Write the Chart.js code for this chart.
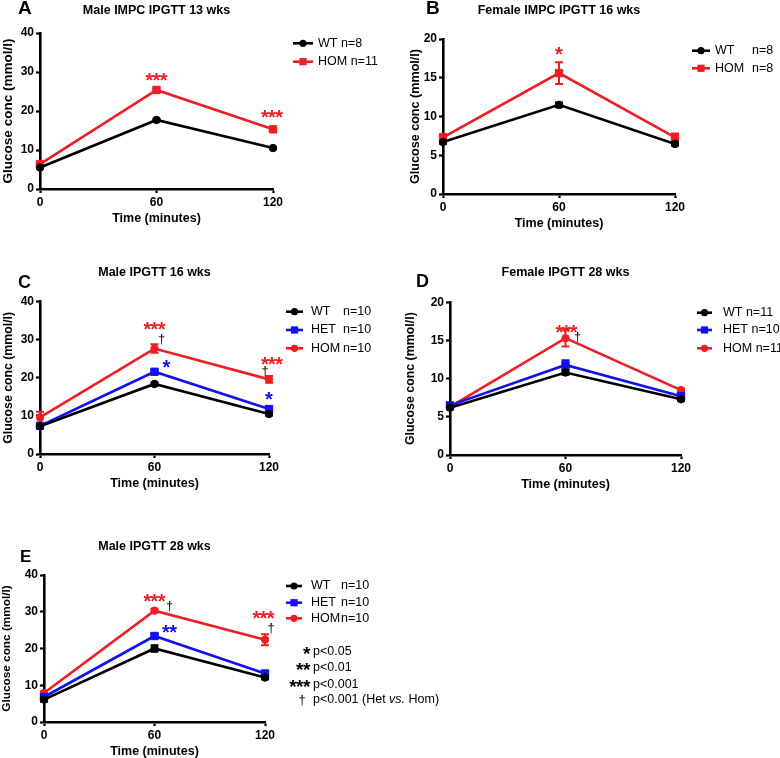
<!DOCTYPE html>
<html>
<head>
<meta charset="utf-8">
<script src="https://cdn.jsdelivr.net/npm/chart.js@4.4.1/dist/chart.umd.min.js"></script>
<style>
  html, body { margin: 0; padding: 0; background: #ffffff; }
  body { position: relative; width: 780px; height: 758px; overflow: hidden; }
  canvas { position: absolute; }
</style>
</head>
<body>
<canvas id="cA"></canvas>
<canvas id="cB"></canvas>
<canvas id="cC"></canvas>
<canvas id="cD"></canvas>
<canvas id="cE"></canvas>
<script>
// ---------------- DATA ----------------
const timePoints = [0, 60, 120];
const xTickLabels = ['0', '60', '120'];
const xAxisTitle = 'Time (minutes)';
const yAxisTitle = 'Glucose conc (mmol/l)';
const yTicks40 = [0, 10, 20, 30, 40];
const yTicks20 = [0, 5, 10, 15, 20];

// Panel A
const A_title = 'Male IMPC IPGTT 13 wks';
const A_groups = ['WT', 'HOM'];
const A_n = ['n=8', 'n=11'];
const A_WT = [5.5, 17.7, 10.5];
const A_WT_sem = [0.3, 0.3, 0.3];
const A_HOM = [6.4, 25.4, 15.3];
const A_HOM_sem = [0.4, 0.4, 0.4];

// Panel B
const B_title = 'Female IMPC IPGTT 16 wks';
const B_groups = ['WT', 'HOM'];
const B_n = ['n=8', 'n=8'];
const B_WT = [6.7, 11.5, 6.45];
const B_WT_sem = [0.2, 0.3, 0.2];
const B_HOM = [7.3, 15.6, 7.3];
const B_HOM_sem = [0.4, 1.4, 0.5];

// Panel C
const C_title = 'Male IPGTT 16 wks';
const C_groups = ['WT', 'HET', 'HOM'];
const C_n = ['n=10', 'n=10', 'n=10'];
const C_WT = [7.3, 18.4, 10.5];
const C_WT_sem = [0.4, 0.4, 0.4];
const C_HET = [7.4, 21.6, 11.8];
const C_HET_sem = [0.5, 0.6, 0.7];
const C_HOM = [9.6, 27.7, 19.6];
const C_HOM_sem = [1.5, 1.1, 0.9];

// Panel D
const D_title = 'Female IPGTT 28 wks';
const D_groups = ['WT', 'HET', 'HOM'];
const D_n = ['n=11', 'n=10', 'n=11'];
const D_WT = [6.2, 10.8, 7.3];
const D_WT_sem = [0.2, 0.3, 0.2];
const D_HET = [6.5, 11.8, 7.7];
const D_HET_sem = [0.3, 0.6, 0.3];
const D_HOM = [6.3, 15.3, 8.5];
const D_HOM_sem = [0.3, 1.1, 0.2];

// Panel E
const E_title = 'Male IPGTT 28 wks';
const E_groups = ['WT', 'HET', 'HOM'];
const E_n = ['n=10', 'n=10', 'n=10'];
const E_WT = [6.1, 20.0, 12.1];
const E_WT_sem = [0.6, 0.9, 0.5];
const E_HET = [6.8, 23.4, 13.2];
const E_HET_sem = [0.5, 0.6, 0.6];
const E_HOM = [7.9, 30.3, 22.4];
const E_HOM_sem = [0.5, 0.5, 1.5];

// significance key
const keySymbols = ['*', '**', '***', '\u2020'];
const keyTexts = ['p<0.05', 'p<0.01', 'p<0.001', 'p<0.001 (Het |vs.| Hom)'];

// ---------------- STYLE / LAYOUT ----------------
const RED = '#ee1c24', BLUE = '#1010f0', BLACK = '#000000';
const FONT = '"Liberation Sans", Arial, Helvetica, sans-serif';

// significance marks anchored to data points (ds index, point index, text, colour, pixel offset)
const A_marks = [
  {ds: 1, i: 1, t: '***', c: RED, dx: 0, dy: -12},
  {ds: 1, i: 2, t: '***', c: RED, dx: -1, dy: -14}
];
const B_marks = [
  {ds: 1, i: 1, t: '*', c: RED, dx: 0, dy: -21}
];
const C_marks = [
  {ds: 2, i: 1, t: '***', c: RED, dx: 0, dy: -21},
  {ds: 2, i: 1, t: '\u2020', c: BLACK, dx: 7, dy: -9},
  {ds: 1, i: 1, t: '*', c: BLUE, dx: 12, dy: -6},
  {ds: 2, i: 2, t: '***', c: RED, dx: 3, dy: -17},
  {ds: 2, i: 2, t: '\u2020', c: BLACK, dx: -4, dy: -8},
  {ds: 1, i: 2, t: '*', c: BLUE, dx: 0, dy: -12}
];
const D_marks = [
  {ds: 2, i: 1, t: '***', c: RED, dx: 1, dy: -8},
  {ds: 2, i: 1, t: '\u2020', c: BLACK, dx: 12, dy: -1}
];
const E_marks = [
  {ds: 2, i: 1, t: '***', c: RED, dx: 0, dy: -11},
  {ds: 2, i: 1, t: '\u2020', c: BLACK, dx: 15, dy: -5},
  {ds: 1, i: 1, t: '**', c: BLUE, dx: 15, dy: -6},
  {ds: 2, i: 2, t: '***', c: RED, dx: -1.5, dy: -23},
  {ds: 2, i: 2, t: '\u2020', c: BLACK, dx: 6, dy: -12}
];

const panels = {
  cA: {letter: 'A', ox: 0, oy: 0, w: 390, h: 232, L: 40, T: 33, R: 273, B: 189, titleY: 10.5,
       letterX: 18, letterY: 13.5, letterSize: 19, yTitleX: 8.5, yTitleSize: 13.5,
       legend: {x0: 293, x1: 313, tx: 318, col: null, rows: [43.3, 61.7]}, marks: A_marks, yTicks: yTicks40},
  cB: {letter: 'B', ox: 390, oy: 0, w: 390, h: 232, L: 443, T: 39, R: 675, B: 194, titleY: 11,
       letterX: 426, letterY: 13.5, letterSize: 19, yTitleX: 416, yTitleSize: 12.6,
       legend: {x0: 692, x1: 710, tx: 715, col: 752, rows: [50.7, 68.3]}, marks: B_marks, yTicks: yTicks20},
  cC: {letter: 'C', ox: 0, oy: 240, w: 390, h: 252, L: 40, T: 301.7, R: 269, B: 454, titleY: 272.3,
       letterX: 18, letterY: 288, letterSize: 18, yTitleX: 9, yTitleSize: 12.3,
       legend: {x0: 286, x1: 303, tx: 311, col: 343, rows: [311.7, 330, 348.3]}, marks: C_marks, yTicks: yTicks40},
  cD: {letter: 'D', ox: 390, oy: 240, w: 390, h: 252, L: 450, T: 302.3, R: 681, B: 455, titleY: 272.3,
       letterX: 416, letterY: 287, letterSize: 18, yTitleX: 411, yTitleSize: 12.4,
       legend: {x0: 697, x1: 712, tx: 723, col: null, rows: [312.7, 330, 348.3]}, marks: D_marks, yTicks: yTicks20},
  cE: {letter: 'E', ox: 0, oy: 500, w: 520, h: 258, L: 44, T: 575, R: 265, B: 722, titleY: 547,
       letterX: 20, letterY: 562, letterSize: 17, yTitleX: 6.5, yTitleSize: 11.8,
       legend: {x0: 286, x1: 302, tx: 311, col: 341, rows: [586, 602.7, 618.3]}, marks: E_marks, yTicks: yTicks40,
       key: {symRight: 310, tx: 313, rows: [651.7, 668, 685, 700]}}
};

// ---------------- HELPERS ----------------
function series(label, values, sem, color, style) {
  return {
    label: label,
    data: timePoints.map((t, i) => ({x: t, y: values[i]})),
    sem: sem,
    borderColor: color,
    backgroundColor: color,
    pointBackgroundColor: color,
    pointBorderColor: color,
    pointStyle: style,
    pointRadius: style === 'rect' ? 5.2 : 3.7,
    pointBorderWidth: 1,
    borderWidth: 2.6,
    tension: 0,
    clip: false
  };
}

function drawStars(ctx, text, cx, cy, color, size) {
  ctx.save();
  ctx.fillStyle = color;
  ctx.textAlign = 'center';
  ctx.textBaseline = 'alphabetic';
  if (text.indexOf('*') >= 0) {
    ctx.font = 'bold ' + size + 'px ' + FONT;
    const n = text.length, sp = size * 0.36;
    for (let k = 0; k < n; k++) {
      ctx.fillText('*', cx + (k - (n - 1) / 2) * sp, cy + size * 0.43);
    }
  } else {
    ctx.font = '13px ' + FONT;
    ctx.fillText(text, cx, cy + 13 * 0.3);
  }
  ctx.restore();
}

const extras = {
  id: 'panelExtras',
  beforeDatasetsDraw(chart) {
    const P = panels[chart.canvas.id];
    if (!P) return;
    const ctx = chart.ctx, xs = chart.scales.x, ys = chart.scales.y;
    const dss = chart.data.datasets;
    for (let d = dss.length - 1; d >= 0; d--) {
      const ds = dss[d];
      ds.data.forEach((p, i) => {
        const e = ds.sem[i];
        if (!e) return;
        const x = xs.getPixelForValue(p.x);
        const y1 = ys.getPixelForValue(p.y + e);
        const y2 = ys.getPixelForValue(p.y - e);
        ctx.save();
        ctx.strokeStyle = ds.borderColor;
        ctx.lineWidth = 2;
        ctx.beginPath();
        ctx.moveTo(x, y1); ctx.lineTo(x, y2);
        ctx.moveTo(x - 4, y1); ctx.lineTo(x + 4, y1);
        ctx.moveTo(x - 4, y2); ctx.lineTo(x + 4, y2);
        ctx.stroke();
        ctx.restore();
      });
    }
  },
  afterDraw(chart) {
    const P = panels[chart.canvas.id];
    if (!P) return;
    const ctx = chart.ctx, xs = chart.scales.x, ys = chart.scales.y;
    const dss = chart.data.datasets;
    // panel letter
    ctx.save();
    ctx.fillStyle = '#000';
    ctx.font = 'bold ' + P.letterSize + 'px ' + FONT;
    ctx.textAlign = 'left';
    ctx.textBaseline = 'alphabetic';
    ctx.fillText(P.letter, P.letterX - P.ox, P.letterY - P.oy);
    ctx.restore();
    // legend
    const lg = P.legend;
    dss.forEach((ds, k) => {
      const y = lg.rows[k] - P.oy;
      const x0 = lg.x0 - P.ox, x1 = lg.x1 - P.ox, xm = (x0 + x1) / 2;
      ctx.save();
      ctx.strokeStyle = ds.borderColor;
      ctx.fillStyle = ds.borderColor;
      ctx.lineWidth = 2.6;
      ctx.beginPath(); ctx.moveTo(x0, y); ctx.lineTo(x1, y); ctx.stroke();
      if (ds.pointStyle === 'rect') {
        ctx.fillRect(xm - 3.6, y - 3.6, 7.2, 7.2);
      } else {
        ctx.beginPath(); ctx.arc(xm, y, 3.6, 0, Math.PI * 2); ctx.fill();
      }
      ctx.fillStyle = '#000';
      ctx.font = '12.5px ' + FONT;
      ctx.textAlign = 'left';
      ctx.textBaseline = 'middle';
      const tx = lg.tx - P.ox;
      ctx.fillText(ds.label, tx, y);
      const nText = P.nLabels[k];
      const nx = lg.col !== null ? lg.col - P.ox : tx + ctx.measureText(ds.label + ' ').width;
      ctx.fillText(nText, nx, y);
      ctx.restore();
    });
    // significance marks
    P.marks.forEach(m => {
      const p = dss[m.ds].data[m.i];
      const x = xs.getPixelForValue(p.x) + m.dx;
      const y = ys.getPixelForValue(p.y) + m.dy;
      drawStars(ctx, m.t, x, y, m.c, 20);
    });
    // key
    if (P.key) {
      const K = P.key;
      keySymbols.forEach((s, k) => {
        const y = K.rows[k] - P.oy;
        const n = s.length;
        if (s[0] === '*') {
          const sp = 19 * 0.36;
          const cx = K.symRight - P.ox - (sp * n) / 2;
          drawStars(ctx, s, cx, y, '#000', 19);
        } else {
          drawStars(ctx, s, K.symRight - P.ox - 8, y, '#000', 19);
        }
        ctx.save();
        ctx.fillStyle = '#000';
        ctx.textAlign = 'left';
        ctx.textBaseline = 'middle';
        let x = K.tx - P.ox;
        const parts = keyTexts[k].split('|');
        parts.forEach((part, j) => {
          ctx.font = (j === 1 ? 'italic ' : '') + '12.5px ' + FONT;
          ctx.fillText(part, x, y);
          x += ctx.measureText(part).width;
        });
        ctx.restore();
      });
    }
  }
};

function makePanel(id, title, groups, nLabels, seriesList) {
  const P = panels[id];
  P.nLabels = nLabels;
  const cv = document.getElementById(id);
  cv.width = P.w; cv.height = P.h;
  cv.style.left = P.ox + 'px'; cv.style.top = P.oy + 'px';
  cv.style.width = P.w + 'px'; cv.style.height = P.h + 'px';
  const Lloc = P.L - P.ox, Tloc = P.T - P.oy, Rloc = P.R - P.ox, Bloc = P.B - P.oy, tY = P.titleY - P.oy;
  const yT = P.yTicks;
  const yLh = P.yTitleSize * 1.2;
  new Chart(cv, {
    type: 'line',
    data: {datasets: seriesList},
    options: {
      responsive: false,
      animation: false,
      events: [],
      layout: {padding: {left: 0, top: 0, right: P.w - Rloc, bottom: 0}},
      plugins: {
        legend: {display: false},
        tooltip: {enabled: false},
        title: {
          display: true, text: title, fullSize: false, color: '#000',
          font: {family: FONT, size: 12.5, weight: 'bold', lineHeight: 1.2},
          padding: {top: tY - 7.5, bottom: Tloc - tY - 7.5}
        }
      },
      scales: {
        x: {
          type: 'linear', min: timePoints[0], max: timePoints[timePoints.length - 1],
          afterBuildTicks: s => { s.ticks = timePoints.map(v => ({value: v})); },
          afterFit: s => { s.height = P.h - Bloc; },
          ticks: {
            color: '#000', font: {family: FONT, size: 12, weight: 'bold'}, padding: 2,
            maxRotation: 0, autoSkip: false,
            callback: (v) => xTickLabels[timePoints.indexOf(v)]
          },
          grid: {drawOnChartArea: false, drawTicks: true, tickLength: 4, tickWidth: 2.2, tickColor: '#000'},
          border: {display: true, color: '#000', width: 2.6},
          title: {
            display: true, text: xAxisTitle, color: '#000',
            font: {family: FONT, size: 12.5, weight: 'bold', lineHeight: 1.2},
            padding: {top: 0, bottom: P.h - (Bloc + 29.5) - 7.5}
          }
        },
        y: {
          type: 'linear', min: yT[0], max: yT[yT.length - 1],
          afterBuildTicks: s => { s.ticks = yT.map(v => ({value: v})); },
          afterFit: s => { s.width = Lloc; },
          ticks: {color: '#000', font: {family: FONT, size: 12, weight: 'bold'}, padding: 2},
          grid: {drawOnChartArea: false, drawTicks: true, tickLength: 4, tickWidth: 2.2, tickColor: '#000'},
          border: {display: true, color: '#000', width: 2.6},
          title: {
            display: true, text: yAxisTitle, color: '#000',
            font: {family: FONT, size: P.yTitleSize, weight: 'bold', lineHeight: 1.2},
            padding: {top: (P.yTitleX - P.ox) - yLh / 2, bottom: 0}
          }
        }
      }
    },
    plugins: [extras]
  });
}

makePanel('cA', A_title, A_groups, A_n, [
  series(A_groups[0], A_WT, A_WT_sem, BLACK, 'circle'),
  series(A_groups[1], A_HOM, A_HOM_sem, RED, 'rect')
]);
makePanel('cB', B_title, B_groups, B_n, [
  series(B_groups[0], B_WT, B_WT_sem, BLACK, 'circle'),
  series(B_groups[1], B_HOM, B_HOM_sem, RED, 'rect')
]);
makePanel('cC', C_title, C_groups, C_n, [
  series(C_groups[0], C_WT, C_WT_sem, BLACK, 'circle'),
  series(C_groups[1], C_HET, C_HET_sem, BLUE, 'rect'),
  series(C_groups[2], C_HOM, C_HOM_sem, RED, 'circle')
]);
makePanel('cD', D_title, D_groups, D_n, [
  series(D_groups[0], D_WT, D_WT_sem, BLACK, 'circle'),
  series(D_groups[1], D_HET, D_HET_sem, BLUE, 'rect'),
  series(D_groups[2], D_HOM, D_HOM_sem, RED, 'circle')
]);
makePanel('cE', E_title, E_groups, E_n, [
  series(E_groups[0], E_WT, E_WT_sem, BLACK, 'circle'),
  series(E_groups[1], E_HET, E_HET_sem, BLUE, 'rect'),
  series(E_groups[2], E_HOM, E_HOM_sem, RED, 'circle')
]);
</script>
</body>
</html>
